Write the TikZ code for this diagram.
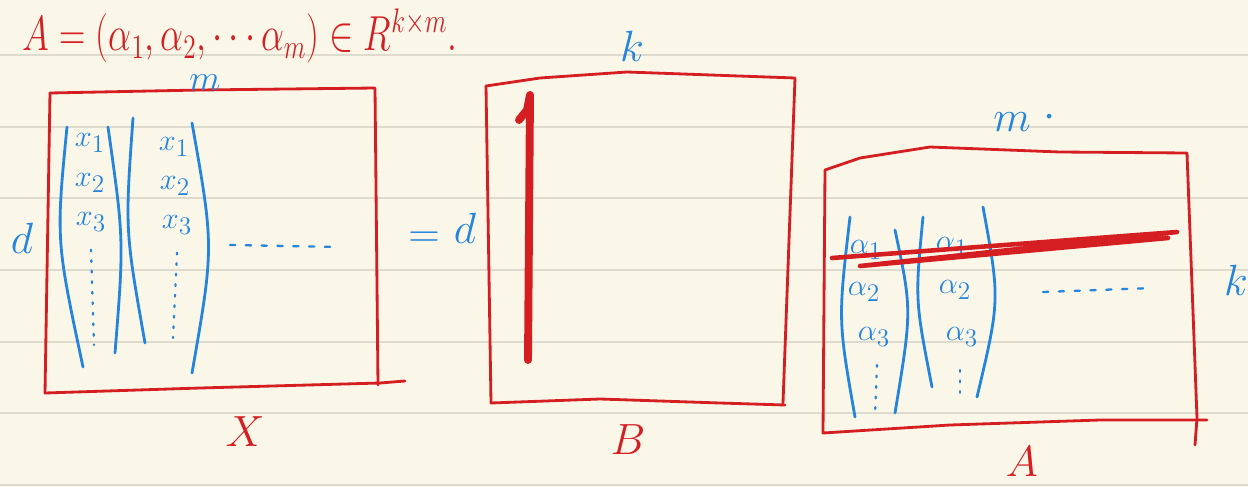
\documentclass[tikz,border=0pt]{standalone}
\usepackage{amsmath}
\usepackage{amsfonts}
\definecolor{inkred}{RGB}{212,30,34}
\definecolor{inkblue}{RGB}{36,132,222}
\definecolor{paper}{RGB}{251,247,232}
\definecolor{ruling}{RGB}{222,219,206}

\begin{document}
\begin{tikzpicture}[x=0.02cm,y=-0.02cm,
  box/.style={inkred,line width=1.6pt,line join=round,line cap=round},
  brace/.style={inkblue,line width=1.6pt,line cap=round},
  vdots/.style={inkblue,line width=1.3pt,line cap=round,dash pattern=on 1pt off 5pt},
  hdots/.style={inkblue,line width=1.3pt,line cap=round,dash pattern=on 3pt off 6pt},
  entry/.style={inkblue,font=\fontsize{19}{21}\selectfont}]
\fill[paper] (0,0) rectangle (1248,487);
\useasboundingbox (0,0) rectangle (1248,487);
\foreach \y in {55,127,198,270,342,413,485}
  \draw[ruling,line width=1pt] (0,\y) -- (1248,\y);

\coordinate (Xnw) at (50,93);
\coordinate (Xne) at (375,88);
\coordinate (Xsw) at (45,393);
\coordinate (Xse) at (380,383);
\coordinate (Bnw) at (486,86);
\coordinate (Bne) at (795,78);
\coordinate (Bsw) at (491,403);
\coordinate (Bse) at (785,405);
\coordinate (Anw) at (825,170);
\coordinate (Ane) at (1187,153);
\coordinate (Asw) at (823,433);
\coordinate (Ase) at (1207,420);

% formula
\node[inkred,inner sep=0pt,font=\fontsize{21}{24}\selectfont] (fa) at (240,36)
  {\scalebox{1}[1.35]{$A=(\alpha_1,\alpha_2,\cdots\alpha_m)\in R^{k\times m}.$}};

% X
\draw [box] (Xnw) -- (200,90) -- (Xne) -- (378,385);
\draw [box] (Xnw) -- (Xsw) -- (200,388) -- (Xse) -- (405,381);
\draw [brace] (67,127) .. controls (56,240) .. (83,367);
\draw [brace] (108,127) .. controls (124,240) .. (115,353);
\draw [brace] (133,118) .. controls (125,230) .. (145,343);
\draw [brace] (192,123) .. controls (214,247) .. (192,373);
\node[entry] (x1a) at (90,143) {$x_1$};
\node[entry] (x2a) at (90,183) {$x_2$};
\node[entry] (x3a) at (91,222) {$x_3$};
\node[entry] (x1b) at (174,147) {$x_1$};
\node[entry] (x2b) at (175,186) {$x_2$};
\node[entry] (x3b) at (177,225) {$x_3$};
\draw [vdots] (x3a.south) ++(0,12) coordinate (va) -- (94,345);
\draw [vdots] (x3b.south) ++(0,12) coordinate (vb) -- (173,338);
\draw [hdots] (230,245) -- (340,247);
\node[inkblue,inner sep=0pt,font=\fontsize{20}{22}\selectfont] (lm) at (205,83) {$m$};
\node[inkblue,font=\fontsize{34}{36}\selectfont] (ld) at (22,238) {$d$};
\node[inkred,font=\fontsize{46}{48}\selectfont] (lx) at (245,432) {$X$};

% equals
\node[inkblue,font=\fontsize{32}{34}\selectfont] (eq) at (424,240) {$=$};
\node[inkblue,font=\fontsize{32}{34}\selectfont] (ld2) at (465,228) {$d$};

% B
\draw [box] (Bnw) -- (540,78) -- (627,72) -- (Bne) -- (783,403);
\draw [box] (Bnw) -- (Bsw) -- (600,399) -- (720,403) -- (Bse);
\draw [inkred,line width=4.5pt,line cap=round,line join=round]
  (519,120) -- (527,110) -- (530,95) -- (528,360);
\node[inkblue,font=\fontsize{28}{30}\selectfont] (lk) at (632,46) {$k$};
\node[inkred,font=\fontsize{38}{40}\selectfont] (lb) at (628,440) {$B$};

% A
\draw [box] (Anw) -- (860,158) -- (930,147) -- (1060,152) -- (Ane) -- (1197,418) -- (1195,445);
\draw [box] (Anw) -- (Asw) -- (950,425) -- (1100,420) -- (Ase);
\draw [brace] (850,217) .. controls (838,320) .. (855,417);
\draw [brace] (895,230) .. controls (912,310) .. (895,413);
\draw [brace] (923,217) .. controls (915,300) .. (932,387);
\draw [brace] (983,207) .. controls (1000,300) .. (977,397);
\node[entry] (a1a) at (866,250) {$\alpha_1$};
\node[entry] (a2a) at (864,292) {$\alpha_2$};
\node[entry] (a3a) at (874,337) {$\alpha_3$};
\node[entry] (a1b) at (952,247) {$\alpha_1$};
\node[entry] (a2b) at (955,290) {$\alpha_2$};
\node[entry] (a3b) at (962,337) {$\alpha_3$};
\draw [vdots] (877,365) -- (875,415);
\draw [vdots] (960,370) -- (960,397);
\draw [hdots] (1043,292) -- (1153,288);
\draw [inkred,line width=2.6pt,line cap=round,line join=round]
  (832,258) -- (1177,232) -- (860,266) -- (1168,238);
\node[inkblue,font=\fontsize{26}{28}\selectfont] (lm2) at (1012,122) {$m$};
\node[inkblue,font=\fontsize{26}{28}\selectfont] (dot) at (1050,118) {$\cdot$};
\node[inkblue,font=\fontsize{30}{32}\selectfont] (lk2) at (1236,280) {$k$};
\node[inkred,font=\fontsize{40}{42}\selectfont] (la) at (1022,462) {$A$};

\end{tikzpicture}
\end{document}
